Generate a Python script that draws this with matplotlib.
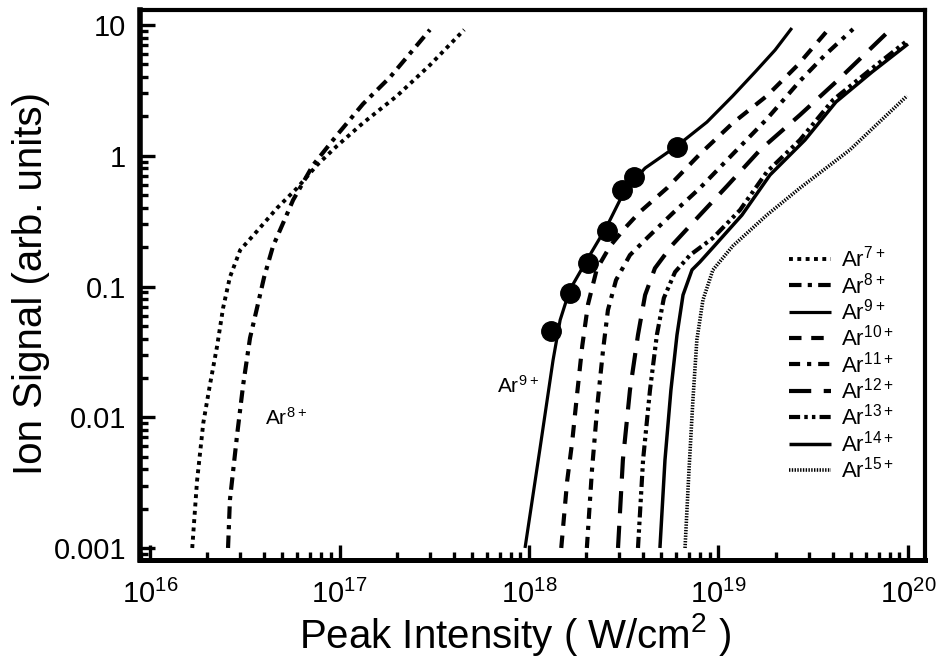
import matplotlib
matplotlib.use("Agg")
import matplotlib.pyplot as plt
from matplotlib.ticker import LogLocator, NullFormatter, FixedLocator, FixedFormatter

plt.rcParams['font.family'] = ['Liberation Sans', 'DejaVu Sans']
plt.rcParams['mathtext.default'] = 'regular'
plt.rcParams['lines.scale_dashes'] = False

# ---- data (intensity W/cm^2, ion signal arb. units) ----
ar7_x = [1.67e16, 1.77e16, 1.91e16, 2.07e16, 2.26e16, 2.43e16, 2.64e16, 2.99e16, 3.67e16, 4.68e16, 5.97e16, 7.61e16, 9.70e16, 1.33e17, 2.01e17, 3.00e17, 4.55e17]
ar7_y = [0.001, 0.00325, 0.00904, 0.01766, 0.0351, 0.0686, 0.118, 0.190, 0.265, 0.398, 0.566, 0.849, 1.19, 1.78, 2.87, 4.94, 9.2]

ar8_x = [2.58e16, 2.64e16, 2.88e16, 3.10e16, 3.37e16, 3.67e16, 4.00e16, 4.46e16, 5.04e16, 5.69e16, 7.25e16, 9.70e16, 1.33e17, 1.85e17, 2.44e17, 3.00e17]
ar8_y = [0.001, 0.00233, 0.00731, 0.01766, 0.0404, 0.0686, 0.118, 0.204, 0.306, 0.459, 0.849, 1.44, 2.49, 4.00, 6.44, 9.2]

ar9_x = [9.53e17, 1.14e18, 1.34e18, 1.46e18, 1.64e18, 2.05e18, 2.58e18, 3.21e18, 4.10e18, 6.04e18, 8.69e18, 1.19e19, 1.56e19, 1.99e19, 2.44e19]
ar9_y = [0.001, 0.00562, 0.0274, 0.0554, 0.094, 0.165, 0.290, 0.547, 0.805, 1.19, 1.81, 2.87, 4.37, 6.44, 9.49]

ar10_x = [1.48e18, 1.59e18, 1.69e18, 1.79e18, 1.91e18, 2.05e18, 2.28e18, 2.68e18, 3.21e18, 3.85e18, 5.35e18, 7.98e18, 1.19e19, 1.80e19, 2.62e19, 3.78e19]
ar10_y = [0.001, 0.00325, 0.00647, 0.01456, 0.0351, 0.0734, 0.136, 0.204, 0.280, 0.372, 0.566, 1.03, 1.78, 2.87, 4.94, 9.16]

ar11_x = [2.02e18, 2.15e18, 2.31e18, 2.46e18, 2.61e18, 2.88e18, 3.41e18, 4.20e18, 5.75e18, 7.98e18, 1.19e19, 1.80e19, 2.69e19, 3.65e19, 5.13e19]
ar11_y = [0.001, 0.00395, 0.01355, 0.0327, 0.0661, 0.112, 0.174, 0.235, 0.365, 0.566, 1.03, 1.91, 3.73, 5.9, 9.31]

ar12_x = [2.95e18, 3.13e18, 3.41e18, 3.76e18, 4.10e18, 4.62e18, 5.69e18, 7.98e18, 1.11e19, 1.66e19, 2.69e19, 4.22e19, 8.03e19]
ar12_y = [0.001, 0.00471, 0.0161, 0.0426, 0.0861, 0.138, 0.207, 0.352, 0.587, 1.11, 2.05, 3.73, 9.16]

ar13_x = [3.76e18, 4.00e18, 4.35e18, 4.73e18, 5.15e18, 5.90e18, 7.08e18, 9.35e18, 1.30e19, 1.80e19, 2.69e19, 4.02e19, 6.31e19, 1.0e20]
ar13_y = [0.001, 0.00471, 0.0161, 0.0426, 0.0817, 0.129, 0.174, 0.235, 0.385, 0.752, 1.32, 2.67, 4.53, 7.67]

ar14_x = [4.91e18, 5.22e18, 5.61e18, 6.04e18, 6.50e18, 7.25e18, 7.98e18, 9.59e18, 1.33e19, 1.87e19, 2.86e19, 4.17e19, 6.46e19, 1.0e20]
ar14_y = [0.001, 0.00471, 0.0161, 0.0426, 0.0861, 0.134, 0.154, 0.207, 0.352, 0.713, 1.32, 2.58, 4.37, 7.16]

ar15_x = [6.66e18, 6.99e18, 7.33e18, 7.69e18, 8.28e18, 9.35e18, 1.19e19, 1.80e19, 2.69e19, 4.94e19, 9.89e19]
ar15_y = [0.001, 0.00395, 0.01355, 0.039, 0.0789, 0.134, 0.204, 0.352, 0.566, 1.11, 2.87]

# experimental Ar9+ points
exp_x = [1.31e18, 1.64e18, 2.05e18, 2.58e18, 3.10e18, 3.58e18, 6.04e18]
exp_y = [0.0457, 0.089, 0.151, 0.265, 0.547, 0.687, 1.17]

labels = ['Ar$^{7+}$', 'Ar$^{8+}$', 'Ar$^{9+}$', 'Ar$^{10+}$', 'Ar$^{11+}$',
          'Ar$^{12+}$', 'Ar$^{13+}$', 'Ar$^{14+}$', 'Ar$^{15+}$']

xticks = [1e16, 1e17, 1e18, 1e19, 1e20]
xticklabels = ['10$^{16}$', '10$^{17}$', '10$^{18}$', '10$^{19}$', '10$^{20}$']
yticks = [0.001, 0.01, 0.1, 1, 10]
yticklabels = ['0.001', '0.01', '0.1', '1', '10']

fig = plt.figure(figsize=(9.36, 6.67), dpi=100)
ax = fig.add_axes([140/936, 1-560/667, 785/936, 550/667])

series = [(ar7_x, ar7_y), (ar8_x, ar8_y), (ar9_x, ar9_y), (ar10_x, ar10_y), (ar11_x, ar11_y),
          (ar12_x, ar12_y), (ar13_x, ar13_y), (ar14_x, ar14_y), (ar15_x, ar15_y)]
styles = [
    dict(lw=2.8, dashes=(2.8, 3.2)),
    dict(lw=3.0, dashes=(9, 4.5, 3, 4.5)),
    dict(lw=2.3, ls='-'),
    dict(lw=3.0, dashes=(9, 7)),
    dict(lw=3.0, dashes=(8, 5, 3, 5)),
    dict(lw=3.0, dashes=(16, 9)),
    dict(lw=3.0, dashes=(8, 3, 2.5, 3, 2.5, 3)),
    dict(lw=2.5, ls='-'),
    dict(lw=2.6, dashes=(1.0, 1.0)),
]
for (xs, ys), st, lab in zip(series, styles, labels):
    ax.plot(xs, ys, color='black', solid_capstyle='butt', dash_capstyle='butt', label=lab, **st)

ax.plot(exp_x, exp_y, 'o', color='black', ms=14, zorder=5)

ax.set_xscale('log')
ax.set_yscale('log')
ax.set_xlim(10**15.947, 10**20.09)
ax.set_ylim(10**-3.092, 10**1.115)

ax.xaxis.set_major_locator(FixedLocator(xticks))
ax.xaxis.set_major_formatter(FixedFormatter(xticklabels))
ax.yaxis.set_major_locator(FixedLocator(yticks))
ax.yaxis.set_major_formatter(FixedFormatter(yticklabels))
ax.xaxis.set_minor_locator(LogLocator(base=10, subs=range(2, 10), numticks=20))
ax.yaxis.set_minor_locator(LogLocator(base=10, subs=range(2, 10), numticks=20))
ax.xaxis.set_minor_formatter(NullFormatter())
ax.yaxis.set_minor_formatter(NullFormatter())

ax.tick_params(which='major', direction='in', length=11, width=2.4, labelsize=21,
               top=False, right=False)
ax.tick_params(which='minor', direction='in', length=5.5, width=2.4, top=False, right=False)
ax.tick_params(axis='x', which='major', pad=14)
ax.tick_params(axis='y', which='major', pad=10)
for side, w in [('left', 4.0), ('bottom', 3.6), ('top', 3.0), ('right', 3.0)]:
    ax.spines[side].set_linewidth(w)

ax.text(4.05e16, 0.00873, 'Ar$^{8+}$', fontsize=15, ha='left', va='baseline')
ax.text(6.78e17, 0.0153, 'Ar$^{9+}$', fontsize=15, ha='left', va='baseline')

leg = ax.legend(loc='upper left', bbox_to_anchor=((789-140)/785, (560-246)/550),
                frameon=False, fontsize=16, handlelength=1.9, handletextpad=0.45,
                labelspacing=0.02, borderpad=0, borderaxespad=0)

fig.text(515/936, 1-634/667, 'Peak Intensity ( W/cm$^{2}$ )', fontsize=29, ha='center', va='center')
fig.text(31/936, 1-283/667, 'Ion Signal (arb. units)', fontsize=29, ha='center', va='center', rotation=90)

fig.savefig('out.png', dpi=100)
